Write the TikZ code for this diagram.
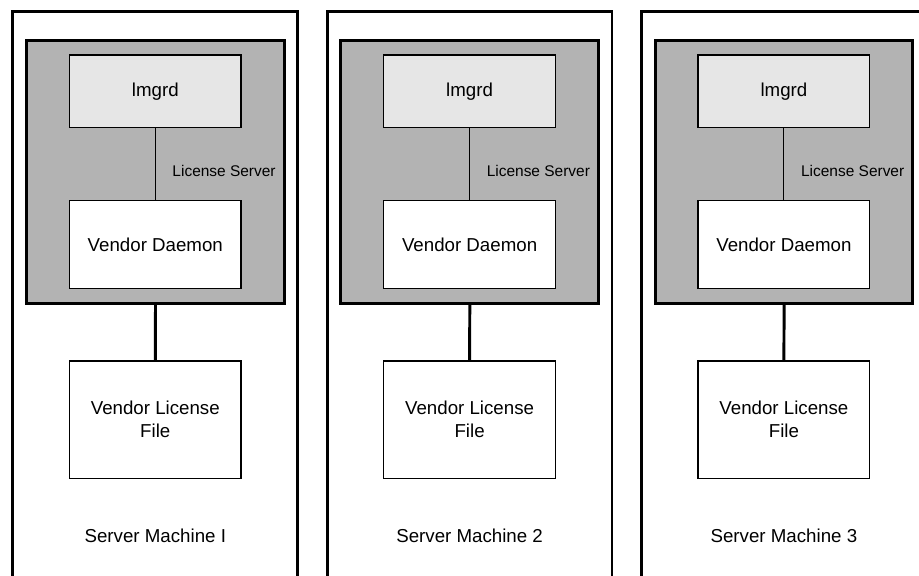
\documentclass[tikz,border=0pt]{standalone}
\usepackage{fontspec}
\setmainfont{Liberation Sans}
\definecolor{hostgray}{RGB}{179,179,179}
\definecolor{lmgrdgray}{RGB}{230,230,230}
\tikzset{
  procbox/.style={draw, line width=1pt, fill=white, minimum width=4.29cm, align=center,
                  font=\fontsize{13.3}{16.3}\selectfont},
  hostbox/.style={draw, line width=2.1pt, fill=hostgray, minimum width=6.44cm, minimum height=6.57cm},
  frame/.style={line width=2.1pt},
}
\begin{document}
\begin{tikzpicture}[x=0.025cm, y=-0.025cm]
    \clip (0,0) rectangle (919,575);
    \foreach \n/\num in {0/I, 1/2, 2/3} {
        \pgfmathsetmacro\cx{155.3+314.3*\n}
        % machine frame, open at the bottom
        \draw[frame] ({\cx-142.4}, 600) |- ({\cx+142.4}, 11.7) -- ({\cx+142.4}, 600);
        \path   node[hostbox] (host\n) at ({\cx+0.2}, 172) {}
                node[procbox, fill=lmgrdgray, minimum height=1.82cm] (lmgrd\n) at (\cx, 91.3) {lmgrd}
                node[procbox, minimum height=2.19cm] (daemon\n) at (\cx, 244.5) {Vendor Daemon}
                node[procbox, minimum height=2.93cm] (file\n) at (\cx, 419.7) {Vendor License\\File}
                node[font=\fontsize{13.3}{16}\selectfont] (machine\n) at (\cx, 536) {Server Machine \num};
        \draw[line width=0.7pt] (lmgrd\n.south) -- node[right=0.3cm, pos=0.6, font=\fontsize{11}{13}\selectfont] {License Server} (daemon\n.north);
        \draw[line width=2.1pt] (host\n.south) -- (file\n.north);
    }
\end{tikzpicture}
\end{document}
